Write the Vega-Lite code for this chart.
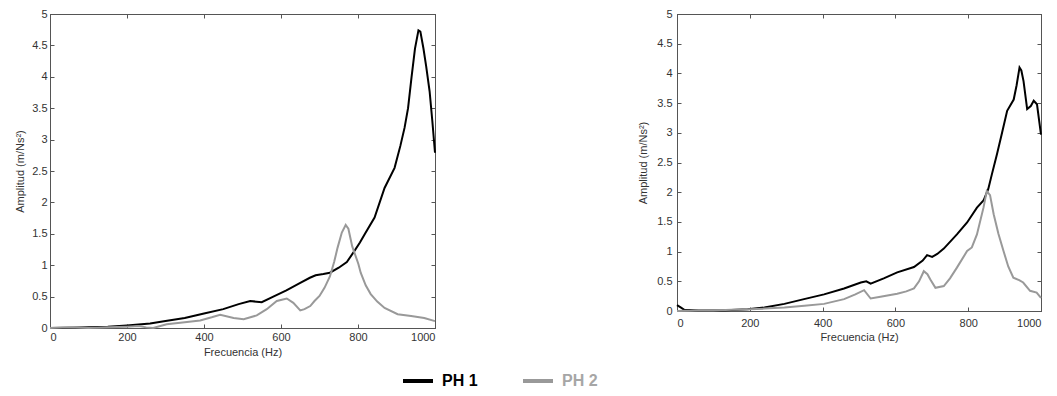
{
  "$schema": "https://vega.github.io/schema/vega-lite/v6.json",
  "background": "white",
  "padding": {"left": 14, "top": 7, "right": 5, "bottom": 0},
  "config": {
    "font": "Liberation Sans",
    "view": {"stroke": "#555", "strokeWidth": 1},
    "axis": {
      "grid": false,
      "labelFont": "Liberation Sans",
      "labelFontSize": 11,
      "labelColor": "#333",
      "titleFont": "Liberation Sans",
      "titleFontSize": 11,
      "titleFontWeight": "normal",
      "titleColor": "#333",
      "domainColor": "#555",
      "tickColor": "#555",
      "tickSize": -4,
      "labelPadding": 7
    }
  },
  "data": {"values": [
    {"p":"L","s":"PH 1","f":0,"v":0},{"p":"L","s":"PH 1","f":50,"v":0.005},{"p":"L","s":"PH 1","f":100,"v":0.01},{"p":"L","s":"PH 1","f":150,"v":0.02},{"p":"L","s":"PH 1","f":200,"v":0.04},{"p":"L","s":"PH 1","f":260,"v":0.07},{"p":"L","s":"PH 1","f":300,"v":0.11},{"p":"L","s":"PH 1","f":350,"v":0.16},{"p":"L","s":"PH 1","f":400,"v":0.23},{"p":"L","s":"PH 1","f":450,"v":0.3},{"p":"L","s":"PH 1","f":490,"v":0.38},{"p":"L","s":"PH 1","f":520,"v":0.43},{"p":"L","s":"PH 1","f":550,"v":0.41},{"p":"L","s":"PH 1","f":580,"v":0.5},{"p":"L","s":"PH 1","f":614,"v":0.6},{"p":"L","s":"PH 1","f":650,"v":0.72},{"p":"L","s":"PH 1","f":675,"v":0.8},{"p":"L","s":"PH 1","f":690,"v":0.84},{"p":"L","s":"PH 1","f":710,"v":0.86},{"p":"L","s":"PH 1","f":727,"v":0.88},{"p":"L","s":"PH 1","f":750,"v":0.96},{"p":"L","s":"PH 1","f":771,"v":1.05},{"p":"L","s":"PH 1","f":790,"v":1.22},{"p":"L","s":"PH 1","f":805,"v":1.36},{"p":"L","s":"PH 1","f":817,"v":1.49},{"p":"L","s":"PH 1","f":843,"v":1.76},{"p":"L","s":"PH 1","f":869,"v":2.23},{"p":"L","s":"PH 1","f":895,"v":2.55},{"p":"L","s":"PH 1","f":910,"v":2.9},{"p":"L","s":"PH 1","f":921,"v":3.19},{"p":"L","s":"PH 1","f":930,"v":3.5},{"p":"L","s":"PH 1","f":939,"v":3.99},{"p":"L","s":"PH 1","f":948,"v":4.45},{"p":"L","s":"PH 1","f":957,"v":4.74},{"p":"L","s":"PH 1","f":962,"v":4.72},{"p":"L","s":"PH 1","f":970,"v":4.45},{"p":"L","s":"PH 1","f":977,"v":4.17},{"p":"L","s":"PH 1","f":986,"v":3.77},{"p":"L","s":"PH 1","f":993,"v":3.3},{"p":"L","s":"PH 1","f":1000,"v":2.79},
    {"p":"L","s":"PH 2","f":0,"v":0},{"p":"L","s":"PH 2","f":50,"v":0.01},{"p":"L","s":"PH 2","f":100,"v":0},{"p":"L","s":"PH 2","f":150,"v":0.01},{"p":"L","s":"PH 2","f":200,"v":0.02},{"p":"L","s":"PH 2","f":230,"v":0.03},{"p":"L","s":"PH 2","f":250,"v":0.01},{"p":"L","s":"PH 2","f":268,"v":0},{"p":"L","s":"PH 2","f":303,"v":0.06},{"p":"L","s":"PH 2","f":350,"v":0.09},{"p":"L","s":"PH 2","f":390,"v":0.12},{"p":"L","s":"PH 2","f":420,"v":0.17},{"p":"L","s":"PH 2","f":442,"v":0.21},{"p":"L","s":"PH 2","f":477,"v":0.16},{"p":"L","s":"PH 2","f":503,"v":0.14},{"p":"L","s":"PH 2","f":537,"v":0.2},{"p":"L","s":"PH 2","f":563,"v":0.3},{"p":"L","s":"PH 2","f":589,"v":0.43},{"p":"L","s":"PH 2","f":615,"v":0.47},{"p":"L","s":"PH 2","f":632,"v":0.4},{"p":"L","s":"PH 2","f":650,"v":0.28},{"p":"L","s":"PH 2","f":661,"v":0.3},{"p":"L","s":"PH 2","f":676,"v":0.35},{"p":"L","s":"PH 2","f":687,"v":0.43},{"p":"L","s":"PH 2","f":700,"v":0.51},{"p":"L","s":"PH 2","f":713,"v":0.64},{"p":"L","s":"PH 2","f":727,"v":0.82},{"p":"L","s":"PH 2","f":738,"v":1.05},{"p":"L","s":"PH 2","f":747,"v":1.28},{"p":"L","s":"PH 2","f":758,"v":1.52},{"p":"L","s":"PH 2","f":768,"v":1.64},{"p":"L","s":"PH 2","f":775,"v":1.58},{"p":"L","s":"PH 2","f":785,"v":1.3},{"p":"L","s":"PH 2","f":801,"v":1.02},{"p":"L","s":"PH 2","f":807,"v":0.88},{"p":"L","s":"PH 2","f":820,"v":0.68},{"p":"L","s":"PH 2","f":833,"v":0.54},{"p":"L","s":"PH 2","f":850,"v":0.42},{"p":"L","s":"PH 2","f":869,"v":0.32},{"p":"L","s":"PH 2","f":903,"v":0.22},{"p":"L","s":"PH 2","f":938,"v":0.19},{"p":"L","s":"PH 2","f":972,"v":0.16},{"p":"L","s":"PH 2","f":1000,"v":0.11},
    {"p":"R","s":"PH 1","f":0,"v":0.1},{"p":"R","s":"PH 1","f":10,"v":0.06},{"p":"R","s":"PH 1","f":20,"v":0.02},{"p":"R","s":"PH 1","f":60,"v":0.01},{"p":"R","s":"PH 1","f":120,"v":0.01},{"p":"R","s":"PH 1","f":194,"v":0.03},{"p":"R","s":"PH 1","f":240,"v":0.06},{"p":"R","s":"PH 1","f":295,"v":0.12},{"p":"R","s":"PH 1","f":349,"v":0.2},{"p":"R","s":"PH 1","f":404,"v":0.28},{"p":"R","s":"PH 1","f":459,"v":0.38},{"p":"R","s":"PH 1","f":505,"v":0.48},{"p":"R","s":"PH 1","f":520,"v":0.5},{"p":"R","s":"PH 1","f":532,"v":0.46},{"p":"R","s":"PH 1","f":568,"v":0.55},{"p":"R","s":"PH 1","f":605,"v":0.65},{"p":"R","s":"PH 1","f":651,"v":0.74},{"p":"R","s":"PH 1","f":675,"v":0.85},{"p":"R","s":"PH 1","f":687,"v":0.94},{"p":"R","s":"PH 1","f":701,"v":0.91},{"p":"R","s":"PH 1","f":715,"v":0.96},{"p":"R","s":"PH 1","f":733,"v":1.05},{"p":"R","s":"PH 1","f":769,"v":1.29},{"p":"R","s":"PH 1","f":797,"v":1.49},{"p":"R","s":"PH 1","f":824,"v":1.74},{"p":"R","s":"PH 1","f":842,"v":1.86},{"p":"R","s":"PH 1","f":855,"v":2.05},{"p":"R","s":"PH 1","f":865,"v":2.3},{"p":"R","s":"PH 1","f":879,"v":2.64},{"p":"R","s":"PH 1","f":893,"v":3},{"p":"R","s":"PH 1","f":907,"v":3.37},{"p":"R","s":"PH 1","f":925,"v":3.56},{"p":"R","s":"PH 1","f":933,"v":3.8},{"p":"R","s":"PH 1","f":941,"v":4.1},{"p":"R","s":"PH 1","f":946,"v":4.05},{"p":"R","s":"PH 1","f":952,"v":3.87},{"p":"R","s":"PH 1","f":962,"v":3.4},{"p":"R","s":"PH 1","f":972,"v":3.45},{"p":"R","s":"PH 1","f":980,"v":3.54},{"p":"R","s":"PH 1","f":989,"v":3.48},{"p":"R","s":"PH 1","f":995,"v":3.2},{"p":"R","s":"PH 1","f":1000,"v":2.97},
    {"p":"R","s":"PH 2","f":0,"v":0},{"p":"R","s":"PH 2","f":50,"v":0.01},{"p":"R","s":"PH 2","f":100,"v":0.01},{"p":"R","s":"PH 2","f":150,"v":0.02},{"p":"R","s":"PH 2","f":200,"v":0.03},{"p":"R","s":"PH 2","f":240,"v":0.04},{"p":"R","s":"PH 2","f":295,"v":0.06},{"p":"R","s":"PH 2","f":350,"v":0.09},{"p":"R","s":"PH 2","f":404,"v":0.12},{"p":"R","s":"PH 2","f":459,"v":0.2},{"p":"R","s":"PH 2","f":490,"v":0.28},{"p":"R","s":"PH 2","f":514,"v":0.35},{"p":"R","s":"PH 2","f":532,"v":0.21},{"p":"R","s":"PH 2","f":559,"v":0.24},{"p":"R","s":"PH 2","f":605,"v":0.29},{"p":"R","s":"PH 2","f":630,"v":0.33},{"p":"R","s":"PH 2","f":651,"v":0.38},{"p":"R","s":"PH 2","f":665,"v":0.5},{"p":"R","s":"PH 2","f":678,"v":0.67},{"p":"R","s":"PH 2","f":688,"v":0.62},{"p":"R","s":"PH 2","f":696,"v":0.53},{"p":"R","s":"PH 2","f":710,"v":0.39},{"p":"R","s":"PH 2","f":733,"v":0.42},{"p":"R","s":"PH 2","f":750,"v":0.55},{"p":"R","s":"PH 2","f":769,"v":0.73},{"p":"R","s":"PH 2","f":797,"v":1.01},{"p":"R","s":"PH 2","f":810,"v":1.07},{"p":"R","s":"PH 2","f":824,"v":1.29},{"p":"R","s":"PH 2","f":842,"v":1.74},{"p":"R","s":"PH 2","f":851,"v":2.02},{"p":"R","s":"PH 2","f":860,"v":1.95},{"p":"R","s":"PH 2","f":870,"v":1.63},{"p":"R","s":"PH 2","f":883,"v":1.3},{"p":"R","s":"PH 2","f":897,"v":1.01},{"p":"R","s":"PH 2","f":910,"v":0.75},{"p":"R","s":"PH 2","f":924,"v":0.56},{"p":"R","s":"PH 2","f":940,"v":0.52},{"p":"R","s":"PH 2","f":951,"v":0.48},{"p":"R","s":"PH 2","f":970,"v":0.34},{"p":"R","s":"PH 2","f":988,"v":0.31},{"p":"R","s":"PH 2","f":1000,"v":0.22}
  ]},
  "bounds": "flush",
  "spacing": 242,
  "resolve": {"scale": {"color": "shared"}},
  "hconcat": [
    {
      "width": 385,
      "height": 314,
      "transform": [{"filter": "datum.p === 'L'"}],
      "resolve": {"scale": {"x": "independent", "y": "independent"}},
      "layer": [
        {
          "mark": {"type": "line", "strokeWidth": 2},
          "encoding": {
            "x": {"field": "f", "type": "quantitative", "scale": {"domain": [0, 1000], "nice": false},
                  "axis": {"orient": "bottom", "values": [0, 200, 400, 600, 800, 1000], "format": "d", "title": "Frecuencia (Hz)", "titlePadding": 4}},
            "y": {"field": "v", "type": "quantitative", "scale": {"domain": [0, 5], "nice": false},
                  "axis": {"orient": "left", "values": [0, 0.5, 1, 1.5, 2, 2.5, 3, 3.5, 4, 4.5, 5], "format": "~g", "title": "Amplitud (m/Ns²)", "titlePadding": 6}},
            "color": {"field": "s", "type": "nominal",
                      "scale": {"domain": ["PH 1", "PH 2"], "range": ["#000000", "#999999"]},
                      "legend": {"orient": "none", "legendX": 351, "legendY": 350, "direction": "horizontal", "title": null, "symbolType": "stroke", "symbolStrokeWidth": 4, "symbolSize": 900, "labelFontSize": 16, "labelFontWeight": "bold", "labelFont": "Liberation Sans", "labelOffset": 7, "columnPadding": 37,
                                 "encode": {"labels": {"update": {"fill": {"signal": "datum.label === 'PH 1' ? '#000000' : '#a6a6a6'"}}}}}},
            "detail": {"field": "s"}
          }
        },
        {
          "mark": {"type": "line", "opacity": 0},
          "encoding": {
            "x": {"field": "f", "type": "quantitative", "scale": {"domain": [0, 1000], "nice": false},
                  "axis": {"orient": "top", "values": [0, 200, 400, 600, 800, 1000], "labels": false, "title": null}},
            "y": {"field": "v", "type": "quantitative", "scale": {"domain": [0, 5], "nice": false},
                  "axis": {"orient": "right", "values": [0, 0.5, 1, 1.5, 2, 2.5, 3, 3.5, 4, 4.5, 5], "labels": false, "title": null}},
            "detail": {"field": "s"}
          }
        }
      ]
    },
    {
      "width": 364,
      "height": 297,
      "transform": [{"filter": "datum.p === 'R'"}],
      "resolve": {"scale": {"x": "independent", "y": "independent"}},
      "layer": [
        {
          "mark": {"type": "line", "strokeWidth": 2},
          "encoding": {
            "x": {"field": "f", "type": "quantitative", "scale": {"domain": [0, 1000], "nice": false},
                  "axis": {"orient": "bottom", "values": [0, 200, 400, 600, 800, 1000], "format": "d", "title": "Frecuencia (Hz)", "titlePadding": 3, "labelPadding": 10}},
            "y": {"field": "v", "type": "quantitative", "scale": {"domain": [0, 5], "nice": false},
                  "axis": {"orient": "left", "values": [0, 0.5, 1, 1.5, 2, 2.5, 3, 3.5, 4, 4.5, 5], "format": "~g", "title": "Amplitud (m/Ns²)", "titlePadding": 8, "labelPadding": 9}},
            "color": {"field": "s", "type": "nominal",
                      "scale": {"domain": ["PH 1", "PH 2"], "range": ["#000000", "#999999"]}},
            "detail": {"field": "s"}
          }
        },
        {
          "mark": {"type": "line", "opacity": 0},
          "encoding": {
            "x": {"field": "f", "type": "quantitative", "scale": {"domain": [0, 1000], "nice": false},
                  "axis": {"orient": "top", "values": [0, 200, 400, 600, 800, 1000], "labels": false, "title": null}},
            "y": {"field": "v", "type": "quantitative", "scale": {"domain": [0, 5], "nice": false},
                  "axis": {"orient": "right", "values": [0, 0.5, 1, 1.5, 2, 2.5, 3, 3.5, 4, 4.5, 5], "labels": false, "title": null}},
            "detail": {"field": "s"}
          }
        }
      ]
    }
  ]
}
